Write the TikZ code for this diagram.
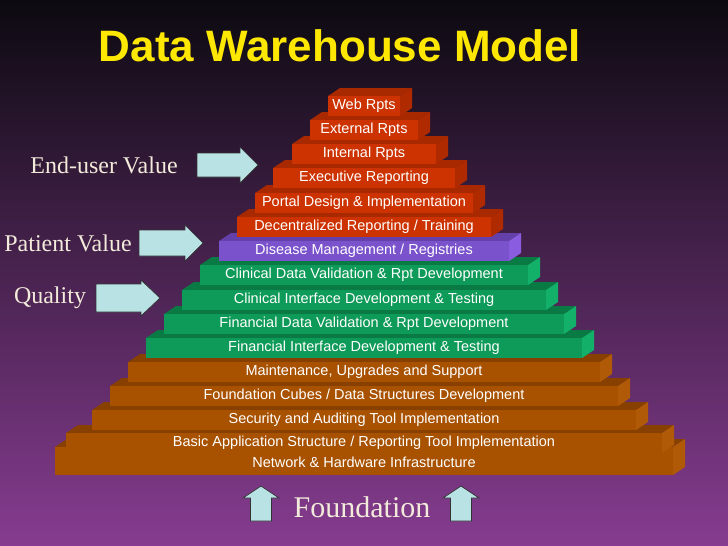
\documentclass[tikz,border=0pt]{standalone}
\usepackage{fontspec}
\setmainfont{Liberation Serif}
\setsansfont{Liberation Sans}
\definecolor{bgtop}{HTML}{0C0A10}
\definecolor{bgbot}{HTML}{863C90}
\definecolor{rf}{HTML}{CC3300}\definecolor{rt}{HTML}{A82800}\definecolor{rs}{HTML}{B02A00}
\definecolor{pf}{HTML}{7A52CC}\definecolor{pt}{HTML}{6440AA}\definecolor{ps}{HTML}{8A5CE0}
\definecolor{gf}{HTML}{0E9A58}\definecolor{gt}{HTML}{0A7A44}\definecolor{gs}{HTML}{12B068}
\definecolor{of}{HTML}{A85200}\definecolor{ot}{HTML}{884000}\definecolor{os}{HTML}{B05A08}
\definecolor{arr}{HTML}{B8E2E4}
\definecolor{lbl}{HTML}{F2EADA}
\newcommand{\lay}[8]{% name, cy, halfw, h, front, top, side, text
 \path[fill=#6] (364-#3,#2-#4/2) -- ++(12,-8) -- ++(2*#3,0) -- ++(-12,8) -- cycle;
 \path[fill=#7] (364+#3,#2-#4/2) -- ++(12,-8) -- ++(0,#4) -- ++(-12,8) -- cycle;
 \node[fill=#5,minimum width=2*#3 pt,minimum height=#4 pt,inner sep=0pt,text=white,font=\sffamily\fontsize{14.5}{17}\selectfont,align=center] (#1) at (364,#2) {#8};}
\newcommand{\rarrow}[6]{% x0, xs, xe, ymid, shaft half, head half
 \draw[barrow] (#1,#4-#5) -- (#2,#4-#5) -- (#2,#4-#6) -- (#3,#4) -- (#2,#4+#6) -- (#2,#4+#5) -- (#1,#4+#5) -- cycle;}
\newcommand{\uarrow}[4]{% xmid, ybottom, yhead, ytip
 \draw[barrow] (#1-10.5,#2) -- (#1-10.5,#3) -- (#1-18,#3) -- (#1,#4) -- (#1+18,#3) -- (#1+10.5,#3) -- (#1+10.5,#2) -- cycle;}
\tikzset{barrow/.style={draw=black!80,fill=arr,line width=0.7pt,line join=miter}}
\begin{document}
\begin{tikzpicture}[x=1pt,y=-1pt]
\useasboundingbox (0,0) rectangle (728,546);
\shade[top color=bgtop,bottom color=bgbot] (0,0) rectangle (728,546);
\node[text=yellow!90!orange,font=\sffamily\bfseries\fontsize{44}{50}\selectfont] (title) at (340,46) {Data Warehouse Model};
\lay{l16}{461}{309}{28}{of}{ot}{os}{\\[-4pt]Network \& Hardware Infrastructure}
\lay{l15}{443}{298}{20}{of}{ot}{os}{Basic Application Structure / Reporting Tool Implementation}
\lay{l14}{420}{272}{20}{of}{ot}{os}{Security and Auditing Tool Implementation}
\lay{l13}{396}{254}{20}{of}{ot}{os}{Foundation Cubes / Data Structures Development}
\lay{l12}{372}{236}{20}{of}{ot}{os}{Maintenance, Upgrades and Support}
\lay{l11}{348}{218}{20}{gf}{gt}{gs}{Financial Interface Development \& Testing}
\lay{l10}{324}{200}{20}{gf}{gt}{gs}{Financial Data Validation \& Rpt Development}
\lay{l9}{300}{182}{20}{gf}{gt}{gs}{Clinical Interface Development \& Testing}
\lay{l8}{275}{164}{20}{gf}{gt}{gs}{Clinical Data Validation \& Rpt Development}
\lay{l7}{251}{145}{20}{pf}{pt}{ps}{Disease Management / Registries}
\lay{l6}{227}{127}{20}{rf}{rt}{rs}{Decentralized Reporting / Training}
\lay{l5}{203}{109}{20}{rf}{rt}{rs}{Portal Design \& Implementation}
\lay{l4}{178}{91}{20}{rf}{rt}{rs}{Executive Reporting}
\lay{l3}{154}{72}{20}{rf}{rt}{rs}{Internal Rpts}
\lay{l2}{130}{54}{20}{rf}{rt}{rs}{External Rpts}
\lay{l1}{106}{36}{20}{rf}{rt}{rs}{Web Rpts}
\tikzset{lab/.style={text=lbl,font=\fontsize{24}{28}\selectfont}}
\node[lab] (eu) at (104,165) {End-user Value};
\node[lab] (pv) at (68,243) {Patient Value};
\node[lab] (q) at (50,298) {Quality};
\node[lab,font=\fontsize{30}{34}\selectfont] (fd) at (362,507) {Foundation};
\rarrow{197}{240}{258}{165}{12}{18}
\rarrow{139}{185}{203}{243}{13}{18}
\rarrow{96}{141}{160}{298}{14}{18}
\uarrow{261}{521}{498}{486}
\uarrow{461}{521}{498}{486}
\end{tikzpicture}
\end{document}
